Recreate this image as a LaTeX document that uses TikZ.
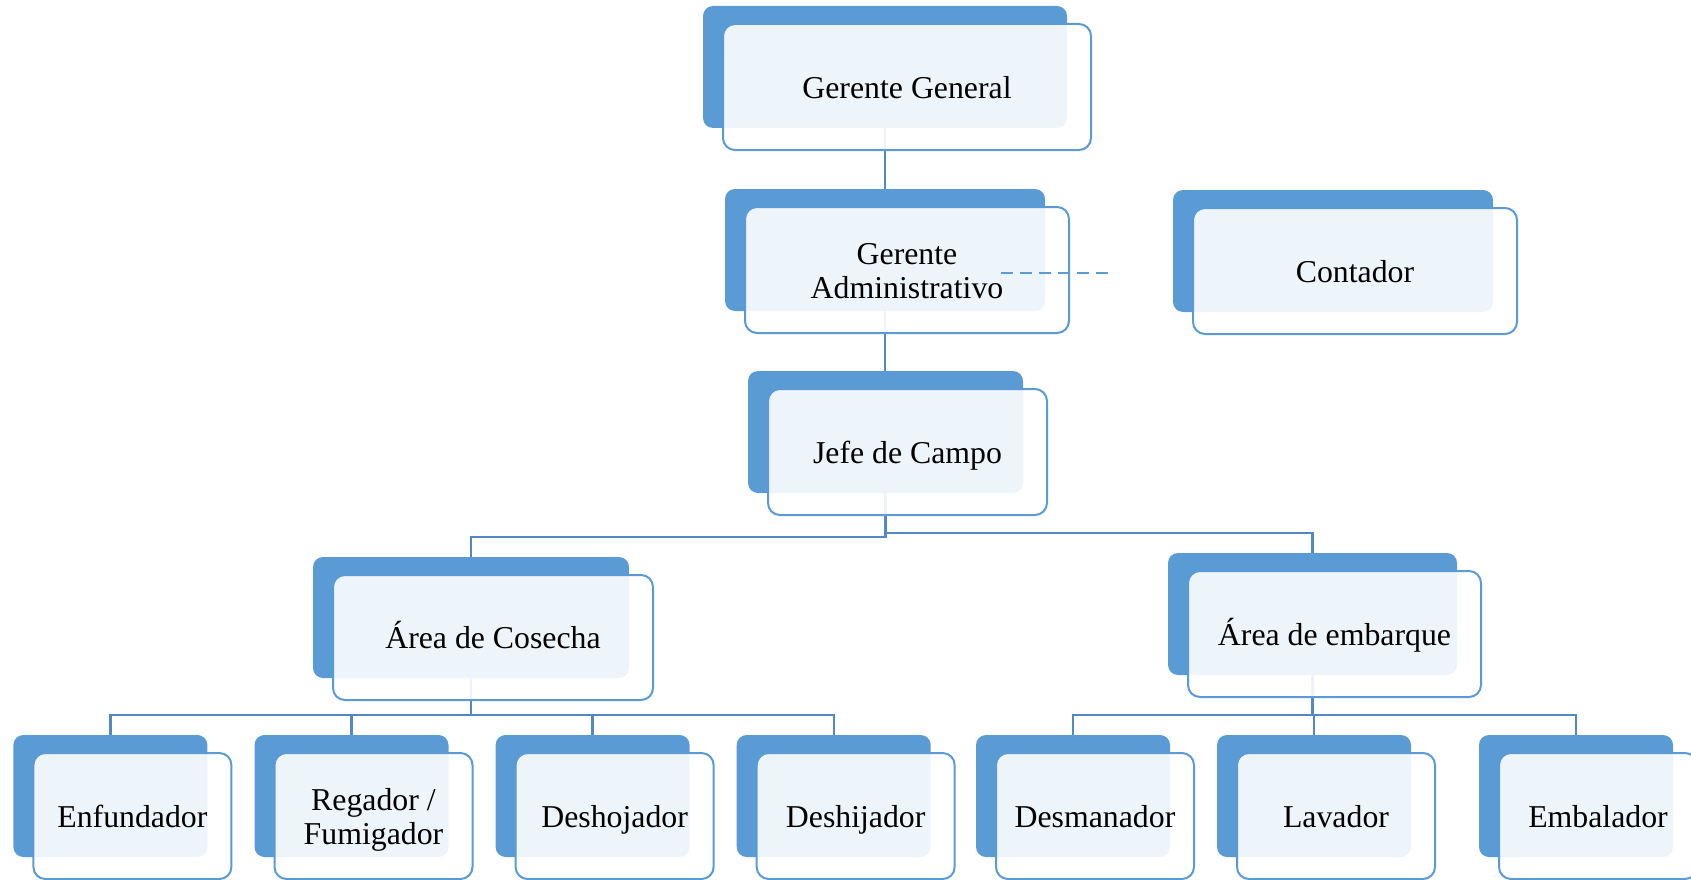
\documentclass[tikz,border=0pt]{standalone}
\usepackage{fontspec}
\setmainfont{Liberation Serif}
\pgfdeclarelayer{bg}
\pgfsetlayers{bg,main}
\definecolor{bblue}{HTML}{5B9BD5}
\definecolor{lblue}{HTML}{5189C6}
\tikzset{
 backbox/.style={fill=bblue, draw=none, rounded corners=10pt, inner sep=0pt},
 frontbox/.style={draw=bblue, line width=2pt, fill=white, fill opacity=0.9, text opacity=1, rounded corners=12pt, inner sep=0pt, align=center, font=\fontsize{31.8}{34}\selectfont, text height=22.5pt, text depth=0pt},
 twoline/.style={text height=56.5pt},
 conn/.style={draw=lblue, line width=2.4pt},
 dashconn/.style={draw=bblue, line width=1.6pt, dash pattern=on 12pt off 7pt}
}
\newcommand\orgbox[7][]{%
 \node[backbox, minimum width=#5pt, minimum height=#6pt] (#2b) at ({#3+#5/2},{#4+#6/2}) {};
 \node[frontbox, #1, minimum width=#5pt+4pt, minimum height=#6pt+4pt] (#2) at ({#3+20+(#5+4)/2},{#4+18+(#6+4)/2}) {#7};
}
\begin{document}
\begin{tikzpicture}[x=1pt,y=-1pt]
\useasboundingbox (0,0) rectangle (1691,880);
\orgbox{gg}{703}{6}{364}{122}{Gerente General}
\orgbox[twoline]{ga}{725}{189}{320}{122}{Gerente\\Administrativo}
\orgbox{ct}{1173}{190}{320}{122}{Contador}
\orgbox{jc}{748}{371}{275}{122}{Jefe de Campo}
\orgbox{ac}{313}{557}{316}{121}{Área de Cosecha}
\orgbox{ae}{1168}{553}{289}{122}{Área de embarque}
\orgbox{en}{13.4}{735}{194}{122}{Enfundador}
\orgbox[twoline]{rg}{254.5}{735}{194}{122}{Regador /\\Fumigador}
\orgbox{dh}{495.6}{735}{194}{122}{Deshojador}
\orgbox{dj}{736.7}{735}{194}{122}{Deshijador}
\orgbox{dm}{976}{735}{194}{122}{Desmanador}
\orgbox{lv}{1217}{735}{194}{122}{Lavador}
\orgbox{em}{1479}{735}{194}{122}{Embalador}
\begin{pgfonlayer}{bg}
\draw[conn] (ggb.south) -- (ggb.south |- gab.north);
\draw[conn] (gab.south) -- (gab.south |- jcb.north);
\draw[conn] (jcb.south) -- ++(0,44) -| (acb.north);
\draw[conn] (jcb.south) -- ++(0,40) -| (aeb.north);
\draw[conn] (acb.south) -- ++(0,37) -| (enb.north);
\draw[conn] (acb.south) -- ++(0,37) -| (rgb.north);
\draw[conn] (acb.south) -- ++(0,37) -| (dhb.north);
\draw[conn] (acb.south) -- ++(0,37) -| (djb.north);
\draw[conn] (aeb.south) -- ++(0,40) -| (dmb.north);
\draw[conn] (aeb.south) -- ++(0,40) -| (lvb.north);
\draw[conn] (aeb.south) -- ++(0,40) -| (emb.north);
\end{pgfonlayer}
\coordinate (d1) at (1001,273);
\coordinate (d2) at (1112,273);
\draw[dashconn] (d1) -- (d2);
\end{tikzpicture}
\end{document}
